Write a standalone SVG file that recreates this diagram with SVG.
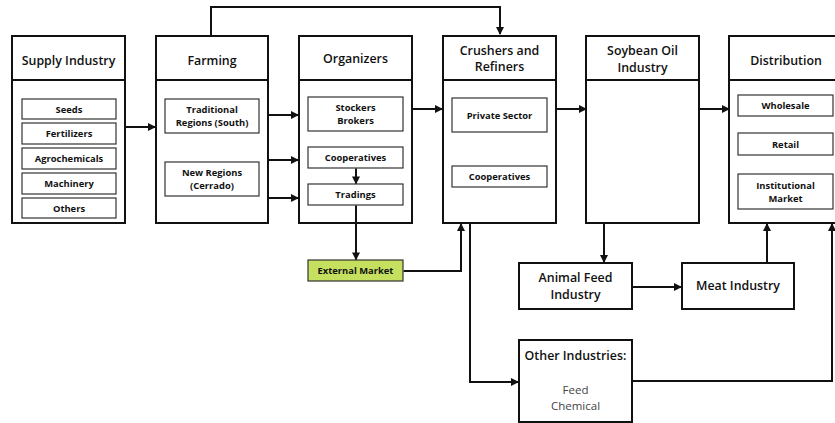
<svg xmlns="http://www.w3.org/2000/svg" width="835" height="423" viewBox="0 0 835 423">
<style>
.box{fill:#fff;stroke:#111;stroke-width:2}
.item{fill:#fff;stroke:#333;stroke-width:1.2}
.hd{font-family:"Open Sans",sans-serif;font-weight:600;font-size:12.4px;fill:#111;text-anchor:middle}
.it{font-family:"Open Sans",sans-serif;font-weight:700;font-size:9.4px;fill:#111;text-anchor:middle}
.sub{font-family:"Open Sans",sans-serif;font-weight:400;font-size:11.5px;fill:#444;text-anchor:middle}
.c{fill:none;stroke:#111;stroke-width:2}
</style>
<defs>
<marker id="ah" markerWidth="8" markerHeight="8" refX="7" refY="4" orient="auto" markerUnits="userSpaceOnUse">
<path d="M0,0 L8,4 L0,8 Z" fill="#111"/>
</marker>
</defs>
<rect width="835" height="423" fill="#fff"/>
<g id="supply">
<rect class="box" x="12" y="36" width="113" height="187"/>
<line class="c" x1="12" y1="80" x2="125" y2="80"/>
<text class="hd" x="68.5" y="65">Supply Industry</text>
<rect class="item" x="22" y="99" width="94" height="20"/>
<text class="it" x="69" y="112.5">Seeds</text>
<rect class="item" x="22" y="123" width="94" height="21"/>
<text class="it" x="69" y="137">Fertilizers</text>
<rect class="item" x="22" y="148" width="94" height="21"/>
<text class="it" x="69" y="162">Agrochemicals</text>
<rect class="item" x="22" y="173" width="94" height="21"/>
<text class="it" x="69" y="187">Machinery</text>
<rect class="item" x="22" y="198" width="94" height="20"/>
<text class="it" x="69" y="211.5">Others</text>
</g>
<g id="farming">
<rect class="box" x="156" y="36" width="112" height="187"/>
<line class="c" x1="156" y1="80" x2="268" y2="80"/>
<text class="hd" x="212" y="65">Farming</text>
<rect class="item" x="165" y="99" width="94" height="34"/>
<text class="it" x="212" y="113">Traditional</text>
<text class="it" x="212" y="126">Regions (South)</text>
<rect class="item" x="165" y="162" width="94" height="34"/>
<text class="it" x="212" y="176">New Regions</text>
<text class="it" x="212" y="189">(Cerrado)</text>
</g>
<g id="organizers">
<rect class="box" x="299" y="36" width="113" height="187"/>
<line class="c" x1="299" y1="80" x2="412" y2="80"/>
<text class="hd" x="355.5" y="63">Organizers</text>
<rect class="item" x="308" y="97" width="95" height="34"/>
<text class="it" x="355.5" y="111">Stockers</text>
<text class="it" x="355.5" y="124">Brokers</text>
<rect class="item" x="308" y="147" width="95" height="21"/>
<text class="it" x="355.5" y="161">Cooperatives</text>
<rect class="item" x="308" y="184" width="95" height="21"/>
<text class="it" x="355.5" y="198">Tradings</text>
</g>
<g id="crushers">
<rect class="box" x="443" y="36" width="113" height="187"/>
<line class="c" x1="443" y1="80" x2="556" y2="80"/>
<text class="hd" x="499.5" y="55">Crushers and</text>
<text class="hd" x="499.5" y="71">Refiners</text>
<rect class="item" x="452" y="98" width="95" height="34"/>
<text class="it" x="499.5" y="118.5">Private Sector</text>
<rect class="item" x="452" y="166" width="95" height="21"/>
<text class="it" x="499.5" y="180">Cooperatives</text>
</g>
<g id="soybean">
<rect class="box" x="586" y="36" width="113" height="187"/>
<line class="c" x1="586" y1="80" x2="699" y2="80"/>
<text class="hd" x="642.5" y="55">Soybean Oil</text>
<text class="hd" x="642.5" y="72">Industry</text>
</g>
<g id="distribution">
<rect class="box" x="729" y="36" width="120" height="187"/>
<line class="c" x1="729" y1="80" x2="849" y2="80"/>
<text class="hd" x="786" y="65">Distribution</text>
<rect class="item" x="738" y="95" width="95" height="21"/>
<text class="it" x="785.5" y="109">Wholesale</text>
<rect class="item" x="738" y="133" width="95" height="22"/>
<text class="it" x="785.5" y="147.5">Retail</text>
<rect class="item" x="738" y="174" width="95" height="35"/>
<text class="it" x="785.5" y="189">Institutional</text>
<text class="it" x="785.5" y="202">Market</text>
</g>
<g id="external">
<rect x="308" y="260" width="95" height="21" fill="#c5df5f" stroke="#333" stroke-width="1.2"/>
<text class="it" x="355.5" y="274">External Market</text>
</g>
<g id="animalfeed">
<rect class="box" x="519" y="263" width="113" height="46"/>
<text class="hd" x="575.5" y="282">Animal Feed</text>
<text class="hd" x="575.5" y="299">Industry</text>
</g>
<g id="meat">
<rect class="box" x="682" y="263" width="112" height="46"/>
<text class="hd" x="738" y="290">Meat Industry</text>
</g>
<g id="other">
<rect class="box" x="519" y="340" width="113" height="82"/>
<text class="hd" x="575.5" y="360">Other Industries:</text>
<text class="sub" x="575.5" y="394">Feed</text>
<text class="sub" x="575.5" y="410">Chemical</text>
</g>
<g id="connectors">
<path class="c" d="M125,127 H155" marker-end="url(#ah)"/>
<path class="c" d="M268,115 H298" marker-end="url(#ah)"/>
<path class="c" d="M268,160 H298" marker-end="url(#ah)"/>
<path class="c" d="M268,198 H298" marker-end="url(#ah)"/>
<path class="c" d="M211,35 V7 H500 V34" marker-end="url(#ah)"/>
<path class="c" d="M412,109 H442" marker-end="url(#ah)"/>
<path class="c" d="M556,109 H586" marker-end="url(#ah)"/>
<path class="c" d="M699,109 H729" marker-end="url(#ah)"/>
<path class="c" d="M356,168.6 V183.4" marker-end="url(#ah)"/>
<path class="c" d="M356,205.6 V259.4" marker-end="url(#ah)"/>
<path class="c" d="M403.6,271 H461 V224" marker-end="url(#ah)"/>
<path class="c" d="M470,224 V382 H518" marker-end="url(#ah)"/>
<path class="c" d="M604,224 V262" marker-end="url(#ah)"/>
<path class="c" d="M633,287 H681" marker-end="url(#ah)"/>
<path class="c" d="M767,262 V224" marker-end="url(#ah)"/>
<path class="c" d="M633,381 H832 V224" marker-end="url(#ah)"/>
</g>
</svg>
